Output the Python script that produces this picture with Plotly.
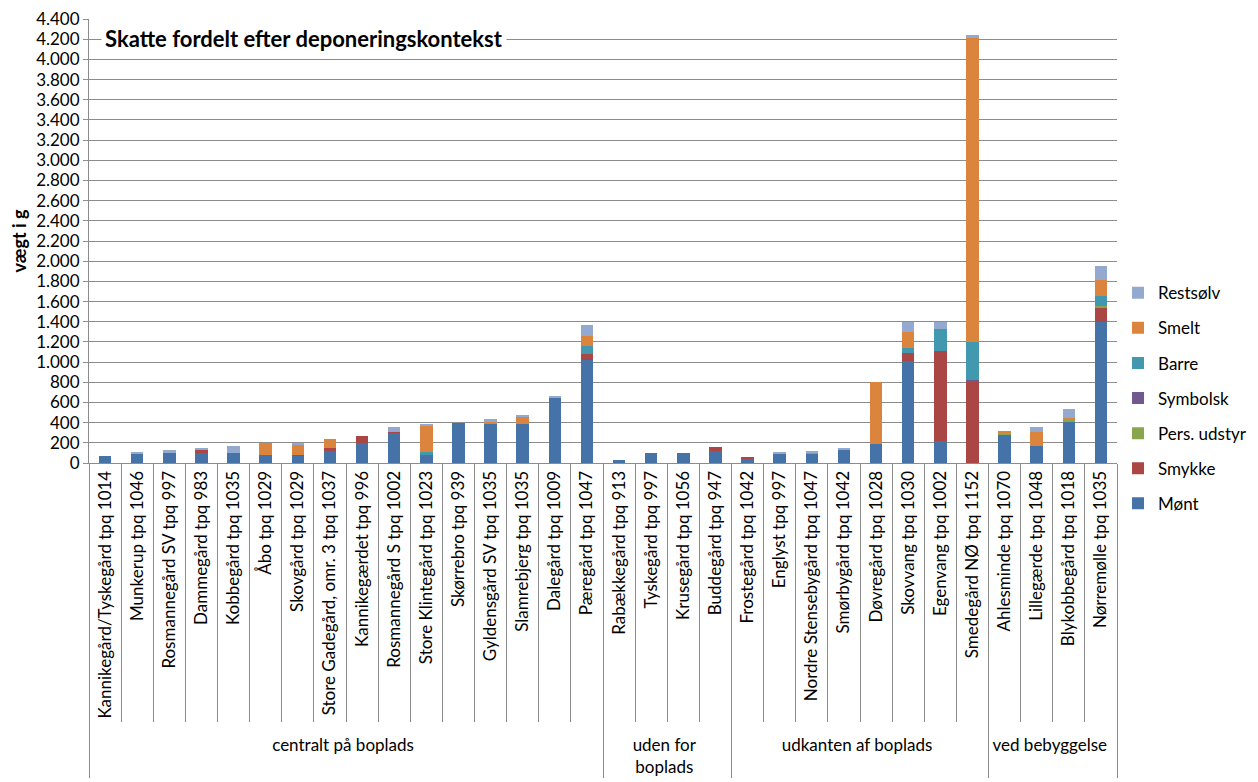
import plotly.graph_objects as go

groups = ["centralt på boplads", "uden for<br>boplads", "udkanten af boplads", "ved bebyggelse"]
group_sizes = [16, 4, 8, 4]

categories = [
    "Kannikegård/Tyskegård tpq 1014", "Munkerup tpq 1046", "Rosmannegård SV tpq 997",
    "Dammegård tpq 983", "Kobbegård tpq 1035", "Åbo tpq 1029", "Skovgård tpq 1029",
    "Store Gadegård, omr. 3 tpq 1037", "Kannikegærdet tpq 996", "Rosmannegård S tpq 1002",
    "Store Klintegård tpq 1023", "Skørrebro tpq 939", "Gyldensgård SV tpq 1035",
    "Slamrebjerg tpq 1035", "Dalegård tpq 1009", "Pæregård tpq 1047",
    "Rabækkegård tpq 913", "Tyskegård tpq 997", "Krusegård tpq 1056", "Buddegård tpq 947",
    "Frostegård tpq 1042", "Englyst tpq 997", "Nordre Stensebygård tpq 1047",
    "Smørbygård tpq 1042", "Døvregård tpq 1028", "Skovvang tpq 1030", "Egenvang tpq 1002",
    "Smedegård NØ tpq 1152", "Ahlesminde tpq 1070", "Lillegærde tpq 1048",
    "Blykobbegård tpq 1018", "Nørremølle tpq 1035",
]

mont = [72, 93, 100, 103, 103, 75, 70, 127, 200, 298, 75, 398, 383, 385, 650, 1020,
        30, 95, 100, 120, 45, 90, 95, 130, 190, 1010, 215, 0, 285, 170, 415, 1400]
smykke = [0, 0, 0, 22, 0, 0, 12, 17, 70, 10, 0, 0, 0, 0, 0, 65,
          0, 0, 0, 40, 10, 0, 0, 0, 0, 80, 895, 810, 0, 0, 0, 140]
pers_udstyr = [0, 0, 0, 0, 0, 0, 0, 0, 0, 0, 0, 0, 0, 0, 0, 0,
               0, 0, 0, 0, 0, 0, 0, 0, 0, 0, 0, 0, 5, 0, 12, 12]
symbolsk = [0, 0, 0, 0, 0, 0, 0, 0, 0, 0, 0, 0, 0, 0, 0, 0,
            0, 0, 0, 0, 0, 0, 0, 0, 0, 0, 0, 15, 0, 0, 0, 0]
barre = [0, 0, 0, 0, 0, 0, 0, 0, 0, 0, 35, 0, 0, 0, 0, 75,
         0, 0, 0, 0, 0, 0, 0, 0, 0, 45, 222, 375, 0, 0, 0, 100]
smelt = [0, 0, 0, 0, 0, 128, 100, 93, 0, 0, 260, 0, 22, 78, 0, 100,
         0, 0, 0, 0, 0, 5, 10, 0, 610, 165, 0, 3010, 30, 142, 15, 165]
restsolv = [0, 10, 26, 28, 63, 0, 15, 0, 0, 52, 10, 0, 35, 12, 5, 107,
            0, 0, 0, 0, 0, 12, 5, 15, 0, 98, 66, 30, 0, 45, 98, 133]

series = [
    ("Mønt", mont, "#4572A7"),
    ("Smykke", smykke, "#AA4643"),
    ("Pers. udstyr", pers_udstyr, "#89A54E"),
    ("Symbolsk", symbolsk, "#71588F"),
    ("Barre", barre, "#4198AF"),
    ("Smelt", smelt, "#DB843D"),
    ("Restsølv", restsolv, "#93A9CF"),
]

group_per_bar = []
for g, n in zip(groups, group_sizes):
    group_per_bar += [g] * n

FONT = "Lato"
GRID = "#8c8c8c"

fig = go.Figure()
n_series = len(series)
for i, (name, vals, color) in enumerate(series):
    fig.add_trace(go.Bar(
        x=[group_per_bar, categories], y=vals, name=name,
        marker=dict(color=color, line=dict(width=0)),
        legendgroup=name, legendrank=n_series - i,
    ))

fig.update_layout(
    barmode="stack",
    bargap=0.61,
    width=1250, height=774,
    margin=dict(l=81, r=141, t=11, b=319, autoexpand=False),
    paper_bgcolor="white", plot_bgcolor="white",
    separators=",.",
    font=dict(family=FONT, size=17, color="#000000"),
    showlegend=True,
    legend=dict(
        x=1.001, y=0.423, xanchor="left", yanchor="top",
        traceorder="grouped", tracegroupgap=10, itemwidth=30,
        font=dict(family=FONT, size=17),
        itemclick=False,
    ),
    xaxis=dict(
        type="multicategory",
        tickangle=-90,
        ticks="outside", ticklen=258, tickcolor=GRID, tickwidth=1,
        showdividers=True, dividercolor=GRID, dividerwidth=1,
        showline=True, linecolor=GRID, linewidth=1,
        tickfont=dict(family=FONT, size=17),
        showgrid=False,
    ),
    yaxis=dict(
        range=[0, 4400.5], dtick=200, tick0=0,
        tickformat=",d",
        ticklabeloverflow="allow",
        showgrid=True, gridcolor=GRID, gridwidth=1,
        showline=True, linecolor=GRID, linewidth=1,
        ticks="outside", ticklen=5, tickcolor=GRID,
        tickfont=dict(family=FONT, size=17),
        zeroline=False,
        title=dict(text="<b>vægt i g</b>", font=dict(family=FONT, size=18), standoff=8),
    ),
    annotations=[dict(
        text="<b>Skatte fordelt efter deponeringskontekst</b>",
        xref="paper", yref="paper", x=0.012, y=0.957,
        xanchor="left", yanchor="middle", showarrow=False,
        font=dict(family=FONT, size=22, color="#000000"),
        bgcolor="white", borderpad=3,
    )],
)

fig.write_html("out.html")
